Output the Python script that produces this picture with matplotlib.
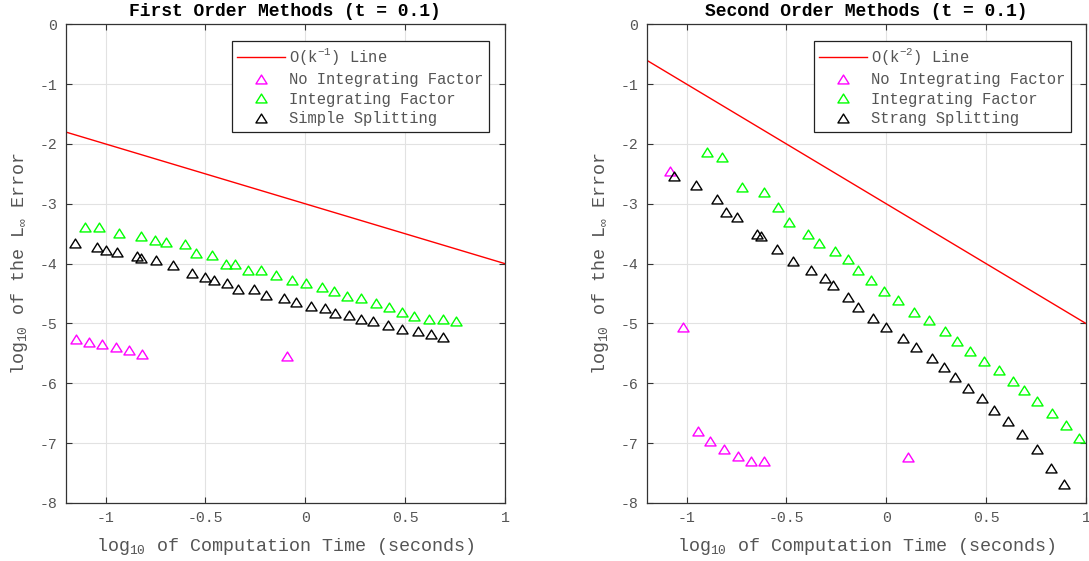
import numpy as np
import matplotlib
matplotlib.use("Agg")
import matplotlib.pyplot as plt
from matplotlib.path import Path

plt.rcParams["font.family"] = ["Liberation Mono", "DejaVu Sans Mono"]
plt.rcParams["mathtext.fontset"] = "custom"
plt.rcParams["mathtext.rm"] = "Liberation Mono"
plt.rcParams["mathtext.it"] = "Liberation Mono"
plt.rcParams["mathtext.fallback"] = "stixsans"
plt.rcParams["axes.unicode_minus"] = False

# ---- 1차 방법 (left) ----
ref1_x = [-1.2, 1.0]
ref1_y = [-1.8, -4.0]

nif1_x = [-1.149, -1.083, -1.017, -0.948, -0.882, -0.816, -0.094]
nif1_y = [-5.26, -5.31, -5.35, -5.40, -5.45, -5.51, -5.55]

if1_x = [-1.104, -1.031, -0.934, -0.823, -0.753, -0.698, -0.601, -0.549,
         -0.469, -0.399, -0.351, -0.288, -0.222, -0.149, -0.069, 0.003,
         0.083, 0.142, 0.208, 0.281, 0.354, 0.420, 0.486, 0.545, 0.622,
         0.691, 0.753]
if1_y = [-3.38, -3.38, -3.48, -3.53, -3.60, -3.63, -3.68, -3.83,
         -3.85, -4.00, -4.00, -4.11, -4.11, -4.19, -4.27, -4.33,
         -4.39, -4.45, -4.54, -4.58, -4.66, -4.73, -4.80, -4.88, -4.92,
         -4.93, -4.96]

ss_x = [-1.153, -1.043, -0.997, -0.941, -0.844, -0.823, -0.747, -0.660,
        -0.568, -0.500, -0.458, -0.392, -0.337, -0.257, -0.198, -0.108,
        -0.045, 0.031, 0.097, 0.149, 0.219, 0.281, 0.340, 0.413, 0.483,
        0.563, 0.628, 0.691]
ss_y = [-3.66, -3.73, -3.78, -3.80, -3.87, -3.91, -3.94, -4.03,
        -4.15, -4.22, -4.27, -4.33, -4.43, -4.43, -4.52, -4.58,
        -4.64, -4.70, -4.74, -4.82, -4.85, -4.92, -4.96, -5.03, -5.09,
        -5.13, -5.18, -5.23]

# ---- 2차 방법 (right) ----
ref2_x = [-1.2, 1.0]
ref2_y = [-0.6, -5.0]

nif2_x = [-1.083, -1.016, -0.945, -0.882, -0.811, -0.742, -0.678, -0.612,
          0.107]
nif2_y = [-2.46, -5.06, -6.80, -6.97, -7.09, -7.21, -7.29, -7.29, -7.23]

if2_x = [-0.896, -0.823, -0.724, -0.614, -0.543, -0.487, -0.390, -0.338,
         -0.258, -0.192, -0.140, -0.078, -0.012, 0.061, 0.140, 0.213,
         0.293, 0.352, 0.421, 0.490, 0.563, 0.633, 0.692, 0.757, 0.830,
         0.899, 0.965]
if2_y = [-2.13, -2.21, -2.72, -2.80, -3.06, -3.30, -3.50, -3.66,
         -3.79, -3.92, -4.11, -4.27, -4.45, -4.61, -4.80, -4.94,
         -5.13, -5.30, -5.46, -5.62, -5.78, -5.96, -6.12, -6.30, -6.49,
         -6.69, -6.92]

strang_x = [-1.062, -0.955, -0.847, -0.802, -0.747, -0.646, -0.626, -0.549,
            -0.466, -0.376, -0.307, -0.265, -0.192, -0.140, -0.064, 0.000,
            0.085, 0.151, 0.227, 0.289, 0.345, 0.411, 0.477, 0.539, 0.608,
            0.678, 0.754, 0.823, 0.889]
strang_y = [-2.54, -2.68, -2.92, -3.14, -3.22, -3.51, -3.54, -3.75,
            -3.96, -4.11, -4.24, -4.35, -4.56, -4.72, -4.91, -5.06,
            -5.25, -5.39, -5.57, -5.73, -5.90, -6.08, -6.25, -6.45, -6.63,
            -6.85, -7.10, -7.41, -7.68]

x_ticks = [-1, -0.5, 0, 0.5, 1]
x_ticklabels = ["-1", "-0.5", "0", "0.5", "1"]
y_ticks = [0, -1, -2, -3, -4, -5, -6, -7, -8]

TXT = "#555555"
MS = 8.0
# MATLAB 스타일의 납작한 삼각형 마커
TRI = Path([(0, 0.8), (-1, -0.8), (1, -0.8), (0, 0.8)],
           [Path.MOVETO, Path.LINETO, Path.LINETO, Path.CLOSEPOLY])


def style_axes(ax, title):
    ax.set_xlim(-1.2, 1)
    ax.set_ylim(-8, 0)
    ax.set_xticks(x_ticks)
    ax.set_xticklabels(x_ticklabels)
    ax.set_yticks(y_ticks)
    ax.set_yticklabels([str(v) for v in y_ticks])
    ax.grid(True, color="#e2e2e2", lw=0.8)
    ax.set_axisbelow(True)
    ax.tick_params(direction="in", top=True, right=True, length=4,
                   labelsize=10.7, colors="#333333", labelcolor=TXT, pad=6)
    for s in ax.spines.values():
        s.set_color("#333333")
        s.set_linewidth(0.9)
    ax.set_title(title, fontsize=13, fontweight="bold", pad=6)
    ax.set_xlabel(r"log$_{10}$ of Computation Time (seconds)", fontsize=13.2,
                  color=TXT, labelpad=8)
    ax.set_ylabel(r"log$_{10}$ of the L$_{\infty}$ Error", fontsize=13.2,
                  color=TXT, labelpad=7)


fig = plt.figure(figsize=(10.89, 5.61), dpi=100)
ax1 = fig.add_axes([0.0603, 0.1034, 0.4034, 0.8533])
ax2 = fig.add_axes([0.5938, 0.1034, 0.4034, 0.8533])

mk = dict(ls="none", marker=TRI, ms=MS, mfc="none", mew=1.0)

ax1.plot(ref1_x, ref1_y, color="#ff0000", lw=1.0, label=r"O(k$^{-1}$) Line")
ax1.plot(nif1_x, nif1_y, mec="#ff00ff", label="No Integrating Factor", **mk)
ax1.plot(if1_x, if1_y, mec="#00ff00", label="Integrating Factor", **mk)
ax1.plot(ss_x, ss_y, mec="#000000", label="Simple Splitting", **mk)
style_axes(ax1, "First Order Methods (t = 0.1)")

ax2.plot(ref2_x, ref2_y, color="#ff0000", lw=1.0, label=r"O(k$^{-2}$) Line")
ax2.plot(nif2_x, nif2_y, mec="#ff00ff", label="No Integrating Factor", **mk)
ax2.plot(if2_x, if2_y, mec="#00ff00", label="Integrating Factor", **mk)
ax2.plot(strang_x, strang_y, mec="#000000", label="Strang Splitting", **mk)
style_axes(ax2, "Second Order Methods (t = 0.1)")

for ax, bx in [(ax1, 0.9636), (ax2, 0.966)]:
    leg = ax.legend(loc="upper right", bbox_to_anchor=(bx, 0.965),
                    borderaxespad=0, fontsize=11.2, handlelength=3.1,
                    labelspacing=0.3, borderpad=0.35, handletextpad=0.25,
                    fancybox=False, framealpha=1)
    leg.get_frame().set_edgecolor("#222222")
    leg.get_frame().set_linewidth(0.9)
    for t in leg.get_texts():
        t.set_color(TXT)

fig.savefig("out.png", dpi=100)
